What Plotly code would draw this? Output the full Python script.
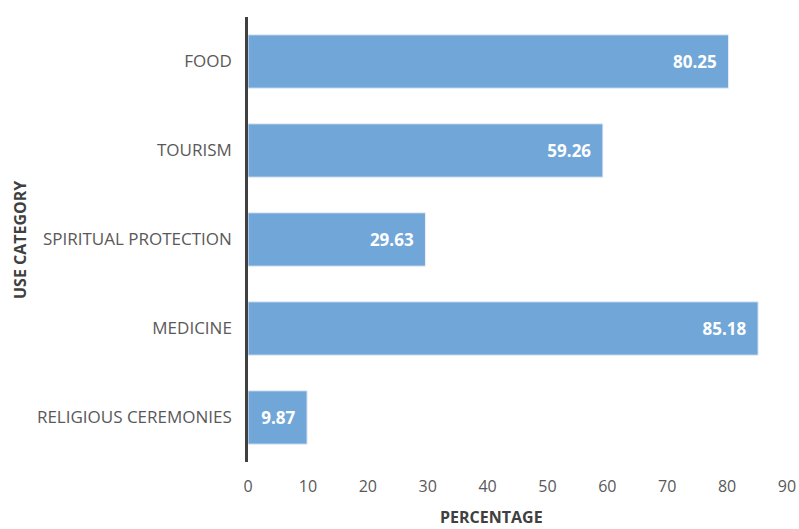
import plotly.graph_objects as go

categories = ["RELIGIOUS CEREMONIES", "MEDICINE", "SPIRITUAL PROTECTION", "TOURISM", "FOOD"]
values = [9.87, 85.18, 29.63, 59.26, 80.25]
x_ticks = [0, 10, 20, 30, 40, 50, 60, 70, 80, 90]

FONT = "Open Sans"
fig = go.Figure()
fig.add_trace(go.Bar(
    y=categories, x=values, orientation="h",
    marker=dict(color="#70A6D8", line=dict(color="#e8eef6", width=1)),
    text=[f"{v:.2f}\u00a0\u00a0" for v in values],
    textposition="inside", insidetextanchor="end",
    textfont=dict(family=FONT, size=17, color="white", weight="bold"),
    width=0.6,
    hoverinfo="skip",
))

fig.update_layout(
    width=799, height=529,
    margin=dict(l=248, r=12, t=17, b=67, autoexpand=False),
    plot_bgcolor="white", paper_bgcolor="white",
    showlegend=False,
    font=dict(family=FONT, color="#595959", size=16),
    xaxis=dict(range=[0, 90], tickvals=x_ticks, showgrid=False, zeroline=False,
               showline=False, ticks="outside", ticklen=10, tickcolor="rgba(0,0,0,0)",
               tickfont=dict(size=16, color="#595959"), fixedrange=True, automargin=False),
    yaxis=dict(categoryorder="array", categoryarray=categories, showgrid=False,
               showline=True, linecolor="#404040", linewidth=2.5,
               ticks="outside", ticklen=10, tickcolor="rgba(0,0,0,0)",
               tickfont=dict(size=17, color="#595959"), fixedrange=True, automargin=False),
    annotations=[
        dict(text="<b>PERCENTAGE</b>", xref="paper", yref="paper", x=0.4518, y=-0.1495,
             xanchor="center", yanchor="bottom", showarrow=False, borderpad=0,
             font=dict(size=16, color="#404040")),
        dict(text="<b>USE CATEGORY</b>", xref="paper", yref="paper", x=-0.423, y=0.4989,
             xanchor="center", yanchor="middle", showarrow=False, textangle=-90,
             font=dict(size=16, color="#404040")),
    ],
)
fig.write_html("out.html")
